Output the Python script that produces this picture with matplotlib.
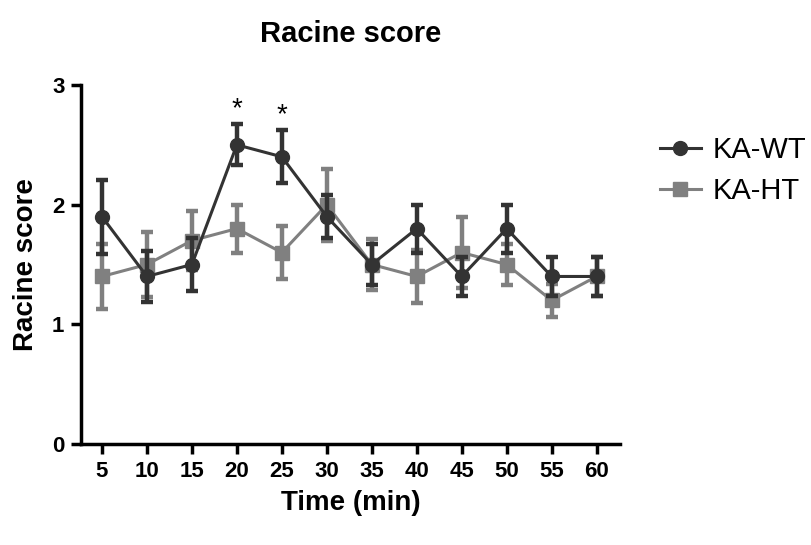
import matplotlib
matplotlib.use("Agg")
import matplotlib.pyplot as plt
from matplotlib.lines import Line2D

plt.rcParams['font.family'] = ['Liberation Sans', 'DejaVu Sans']

time = [5, 10, 15, 20, 25, 30, 35, 40, 45, 50, 55, 60]
wt_mean = [1.9, 1.4, 1.5, 2.5, 2.4, 1.9, 1.5, 1.8, 1.4, 1.8, 1.4, 1.4]
wt_err = [0.31, 0.21, 0.22, 0.17, 0.22, 0.18, 0.17, 0.2, 0.16, 0.2, 0.16, 0.16]
ht_mean = [1.4, 1.5, 1.7, 1.8, 1.6, 2.0, 1.5, 1.4, 1.6, 1.5, 1.2, 1.4]
ht_err = [0.27, 0.27, 0.25, 0.2, 0.22, 0.3, 0.21, 0.22, 0.3, 0.17, 0.14, 0.16]
star_times = [20, 25]
y_ticks = [0, 1, 2, 3]

W, H = 811, 545
fig = plt.figure(figsize=(W / 100, H / 100), dpi=100)
# axes box in pixels: left spine 81, right end 620, bottom 444, top 85
ax = fig.add_axes([81 / W, 1 - 444 / H, (620 - 81) / W, (444 - 85) / H])

ax.errorbar(time, ht_mean, yerr=ht_err, color='#808080', marker='s', markersize=10,
            linewidth=2.2, elinewidth=3.2, capsize=4.5, capthick=3.2, label='KA-HT', zorder=2)
ax.errorbar(time, wt_mean, yerr=wt_err, color='#333333', marker='o', markersize=10,
            linewidth=2.2, elinewidth=3.2, capsize=4.5, capthick=3.2, label='KA-WT', zorder=3)

for t in star_times:
    i = time.index(t)
    ax.text(t, wt_mean[i] + wt_err[i] + 0.02, '*', ha='center', va='bottom', fontsize=20)

ax.set_xlim(2.67, 62.6)
ax.set_ylim(0, 3)
ax.set_xticks(time)
ax.set_yticks(y_ticks)
ax.spines['top'].set_visible(False)
ax.spines['right'].set_visible(False)
ax.spines['left'].set_linewidth(2.5)
ax.spines['bottom'].set_linewidth(2.5)
ax.tick_params(width=2.5, length=7, labelsize=16, pad=5)
for lab in ax.get_xticklabels() + ax.get_yticklabels():
    lab.set_fontweight('bold')

ax.set_xlabel('Time (min)', fontsize=20, fontweight='bold', labelpad=6)
ax.set_ylabel('Racine score', fontsize=20, fontweight='bold', labelpad=9)
ax.set_title('Racine score', fontsize=21, fontweight='bold', pad=31)

h_wt = Line2D([], [], color='#333333', marker='o', markersize=10, linewidth=2.2)
h_ht = Line2D([], [], color='#808080', marker='s', markersize=10, linewidth=2.2)
ax.legend([h_wt, h_ht], ['KA-WT', 'KA-HT'], loc='upper left',
          bbox_to_anchor=(660 / W, 1 - 136 / H), bbox_transform=fig.transFigure,
          frameon=False, fontsize=21, handlelength=1.4, handletextpad=0.4,
          labelspacing=0.45, borderpad=0, borderaxespad=0)

fig.savefig('out.png', dpi=100)
